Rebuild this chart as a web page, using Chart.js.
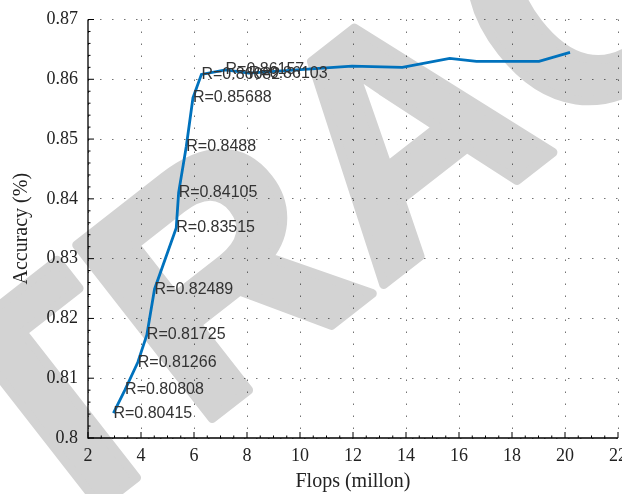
<!DOCTYPE html>
<html>
<head>
<meta charset="utf-8">
<script src="https://cdn.jsdelivr.net/npm/chart.js@4/dist/chart.umd.min.js"></script>
<style>
    body { margin: 0; background: #fff; }
    #box { width: 622px; height: 494px; }
</style>
</head>
<body>
<div id="box"><canvas id="accChart" width="622" height="494"></canvas></div>
<script>
// ========== 数据 ==========
const flops = [2.96, 3.40, 3.88, 4.22, 4.51, 5.33, 5.42, 5.71, 5.96, 6.28, 7.19, 8.07,
               11.96, 13.86, 15.65, 16.66, 19.02, 20.19];// 横轴：计算量（百万）
const accuracy = [0.80415, 0.80808, 0.81266, 0.81725, 0.82489, 0.83515, 0.84105, 0.8488, 0.85688,
                  0.86082, 0.86157, 0.86103, 0.8622, 0.8620, 0.8635, 0.8630, 0.8630, 0.8645];// 纵轴：准确率
const labeledCount = 12;// 前12个点标注 R=数值
const xTicks = [2, 4, 6, 8, 10, 12, 14, 16, 18, 20, 22];// 横轴刻度
const yTicks = [0.80, 0.81, 0.82, 0.83, 0.84, 0.85, 0.86, 0.87];// 纵轴刻度

// 背景水印（撤稿印章）
const stampPlugin = {
    id: 'stamp',
    beforeDraw(chart) {
        const ctx = chart.ctx;
        const size = 320;// 字号
        ctx.save();
        ctx.font = 'bold ' + size + 'px "Liberation Sans", Arial, sans-serif';
        ctx.fillStyle = '#d3d3d3';
        ctx.strokeStyle = '#d3d3d3';
        ctx.lineWidth = 9;
        ctx.lineJoin = 'round';
        ctx.translate(398, 128);// 以字母A中心为锚点
        ctx.rotate(-38 * Math.PI / 180);
        const x0 = -(ctx.measureText('RETR').width + ctx.measureText('A').width / 2);
        const y0 = size * 0.716 / 2;
        ctx.fillText('RETRACTED', x0, y0);
        ctx.strokeText('RETRACTED', x0, y0);
        ctx.restore();
    }
};

// 数据点标注插件
const rLabelPlugin = {
    id: 'rLabels',
    afterDatasetsDraw(chart) {
        const ctx = chart.ctx;
        const meta = chart.getDatasetMeta(0);
        ctx.save();
        ctx.font = '16px "Liberation Sans", Arial, sans-serif';
        ctx.fillStyle = '#333';
        ctx.textAlign = 'left';
        ctx.textBaseline = 'middle';
        for (let i = 0; i < labeledCount; i++) {// 逐点写标签
            const p = meta.data[i];
            ctx.fillText('R=' + accuracy[i], p.x, p.y);
        }
        ctx.restore();
    }
};

// 坐标轴线和朝内的刻度（MATLAB风格）
const axisPlugin = {
    id: 'matlabAxes',
    afterDraw(chart) {
        const ctx = chart.ctx;
        const xs = chart.scales.x, ys = chart.scales.y;
        const a = chart.chartArea;
        ctx.save();
        ctx.strokeStyle = '#000';
        ctx.lineWidth = 1.3;
        ctx.beginPath();
        ctx.moveTo(a.left, a.top);// 左轴
        ctx.lineTo(a.left, a.bottom);
        ctx.lineTo(a.right, a.bottom);// 底轴
        ctx.stroke();
        ctx.lineWidth = 1;
        ctx.beginPath();
        for (let v = 2; v <= 22.001; v += 0.5) {// 横轴刻度，主刻度长，次刻度短
            const px = xs.getPixelForValue(v);
            const len = Math.abs(v % 2) < 0.01 ? 6 : 2.5;
            ctx.moveTo(px, a.bottom);
            ctx.lineTo(px, a.bottom - len);
        }
        for (let k = 0; k <= 35; k++) {// 纵轴刻度，每0.002一格
            const py = ys.getPixelForValue(0.80 + k * 0.002);
            const len = k % 5 === 0 ? 6 : 2.5;
            ctx.moveTo(a.left, py);
            ctx.lineTo(a.left + len, py);
        }
        ctx.stroke();
        ctx.restore();
    }
};

const tickFont = { family: '"Liberation Serif", "Times New Roman", serif', size: 18 };// 刻度字体
const titleFont = { family: '"Liberation Serif", "Times New Roman", serif', size: 20, lineHeight: 1.2 };// 标题字体

new Chart(document.getElementById('accChart').getContext('2d'), {
    type: 'scatter',
    data: {
        datasets: [{
            data: flops.map((f, i) => ({ x: f, y: accuracy[i] })),
            showLine: true,
            borderColor: '#0072BD',
            borderWidth: 2.8,
            pointRadius: 0,
            tension: 0
        }]
    },
    options: {
        responsive: false,
        animation: false,
        layout: { padding: { top: 19.5, right: 4, left: 0, bottom: 0 } },
        plugins: { legend: { display: false }, tooltip: { enabled: false } },
        scales: {
            x: {
                type: 'linear', min: 2, max: 22,
                afterBuildTicks: s => { s.ticks = xTicks.map(v => ({ value: v })); },
                afterFit: s => { s.height = 56; s.paddingLeft = 0; s.paddingRight = 0; },
                ticks: { font: tickFont, color: '#222', padding: 7, maxRotation: 0, autoSkip: false },
                grid: { color: 'rgba(0,0,0,0.55)', lineWidth: 1, drawTicks: false },
                border: { display: false, dash: [1.5, 10.5] },
                title: { display: true, text: 'Flops (millon)', font: titleFont, color: '#222', padding: { top: 0, bottom: 0 } }
            },
            y: {
                type: 'linear', min: 0.80, max: 0.87,
                afterBuildTicks: s => { s.ticks = yTicks.map(v => ({ value: v })); },
                afterFit: s => { s.width = 88; s.paddingTop = 0; s.paddingBottom = 0; },
                ticks: { font: tickFont, color: '#222', padding: 10,
                         callback: v => String(Number(v.toFixed(2))) },
                grid: { color: 'rgba(0,0,0,0.55)', lineWidth: 1, drawTicks: false },
                border: { display: false, dash: [1.5, 10.5] },
                title: { display: true, text: 'Accuracy (%)', font: titleFont, color: '#222', padding: { top: 10, bottom: 0 } }
            }
        }
    },
    plugins: [stampPlugin, rLabelPlugin, axisPlugin]
});
</script>
</body>
</html>
